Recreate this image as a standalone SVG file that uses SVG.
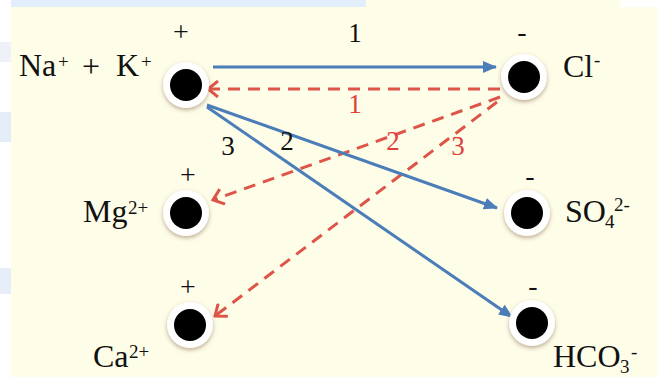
<svg xmlns="http://www.w3.org/2000/svg" width="657" height="382" viewBox="0 0 657 382">
<style>
  text { font-family: "Liberation Serif", "Times New Roman", serif; fill: #111; }
  .lbl { font-size: 32px; }
  .sup { font-size: 19px; }
  .chg { font-size: 28px; text-anchor: middle; }
  .num { font-size: 27px; text-anchor: middle; }
  .red { fill: #E0403A; }
  .blue { stroke: #4B7DB8; stroke-width: 3; fill: none; }
  .dash { stroke: #DD5448; stroke-width: 3; fill: none; stroke-dasharray: 12 8; }
</style>
<defs>
  <filter id="sh" x="-50%" y="-50%" width="200%" height="200%">
    <feGaussianBlur in="SourceAlpha" stdDeviation="2.2"/>
    <feOffset dx="0" dy="2" result="b"/>
    <feFlood flood-color="#8a6a50" flood-opacity="0.55"/>
    <feComposite in2="b" operator="in"/>
    <feMerge><feMergeNode/><feMergeNode in="SourceGraphic"/></feMerge>
  </filter>
  <marker id="ab" viewBox="0 0 14 12" refX="13" refY="6" markerWidth="14" markerHeight="12" markerUnits="userSpaceOnUse" orient="auto">
    <path d="M0,0 L14,6 L0,12 Z" fill="#4B7DB8"/>
  </marker>
  <marker id="ar" viewBox="0 0 14 18" refX="12" refY="9" markerWidth="14" markerHeight="18" markerUnits="userSpaceOnUse" orient="auto">
    <path d="M2,1 L12,9 L2,17" fill="none" stroke="#DD5448" stroke-width="3"/>
  </marker>
  <g id="dot">
    <circle r="23" fill="#ffffff" filter="url(#sh)"/>
    <circle r="16" fill="#000000"/>
  </g>
</defs>

<!-- background -->
<rect x="0" y="0" width="657" height="382" fill="#ffffff"/>
<rect x="11" y="0" width="355" height="7" fill="#E2EEFB"/>
<rect x="366" y="0" width="254" height="7" fill="#FEFEE8"/>
<rect x="11" y="7" width="646" height="370" fill="#FEFDE8"/>
<rect x="0" y="42" width="11" height="20" fill="#EEF2F8"/>
<rect x="0" y="112" width="11" height="30" fill="#E4ECF8"/>
<rect x="0" y="268" width="11" height="26" fill="#E8EEF8"/>

<g id="connectors">
  <line class="blue" x1="213" y1="67" x2="496" y2="67" marker-end="url(#ab)"/>
  <line class="dash" x1="500" y1="89" x2="208" y2="89" marker-end="url(#ar)"/>
  <line class="dash" x1="500" y1="97" x2="213" y2="200" marker-end="url(#ar)"/>
  <line class="dash" x1="497" y1="102" x2="215" y2="316" marker-end="url(#ar)"/>
  <line class="blue" x1="207" y1="105" x2="497" y2="208" marker-end="url(#ab)"/>
  <line class="blue" x1="207" y1="107" x2="512" y2="317" marker-end="url(#ab)"/>
  <text class="num" x="355" y="42">1</text>
  <text class="num red" x="355" y="113">1</text>
  <text class="num red" x="393" y="150">2</text>
  <text class="num red" x="458" y="155">3</text>
  <text class="num" x="287" y="150">2</text>
  <text class="num" x="228" y="155">3</text>
</g>

<g id="node-nak">
  <use href="#dot" x="186" y="85"/>
  <text class="chg" x="181" y="41">+</text>
  <text class="lbl" x="19" y="76">Na</text>
  <text class="sup" x="58" y="68">+</text>
  <text class="lbl" x="82" y="77">+</text>
  <text class="lbl" x="116" y="76">K</text>
  <text class="sup" x="141" y="68">+</text>
</g>

<g id="node-cl">
  <use href="#dot" x="524" y="77"/>
  <text class="chg" x="522" y="41">-</text>
  <text class="lbl" x="563" y="77">Cl</text>
  <text class="sup" x="594" y="66">-</text>
</g>

<g id="node-mg">
  <use href="#dot" x="186" y="213"/>
  <text class="chg" x="188" y="184">+</text>
  <text class="lbl" x="83" y="222">Mg</text>
  <text class="sup" x="128" y="214">2+</text>
</g>

<g id="node-so4">
  <use href="#dot" x="527" y="213"/>
  <text class="chg" x="530" y="185">-</text>
  <text class="lbl" x="565" y="222">SO</text>
  <text class="sup" x="605" y="228">4</text>
  <text class="sup" x="614" y="211">2-</text>
</g>

<g id="node-ca">
  <use href="#dot" x="190" y="325"/>
  <text class="chg" x="188" y="296">+</text>
  <text class="lbl" x="93" y="367">Ca</text>
  <text class="sup" x="129" y="358">2+</text>
</g>

<g id="node-hco3">
  <use href="#dot" x="532" y="323"/>
  <text class="chg" x="533" y="295">-</text>
  <text class="lbl" x="553" y="367">HCO</text>
  <text class="sup" x="620" y="373">3</text>
  <text class="sup" x="631" y="358">-</text>
</g>
</svg>
